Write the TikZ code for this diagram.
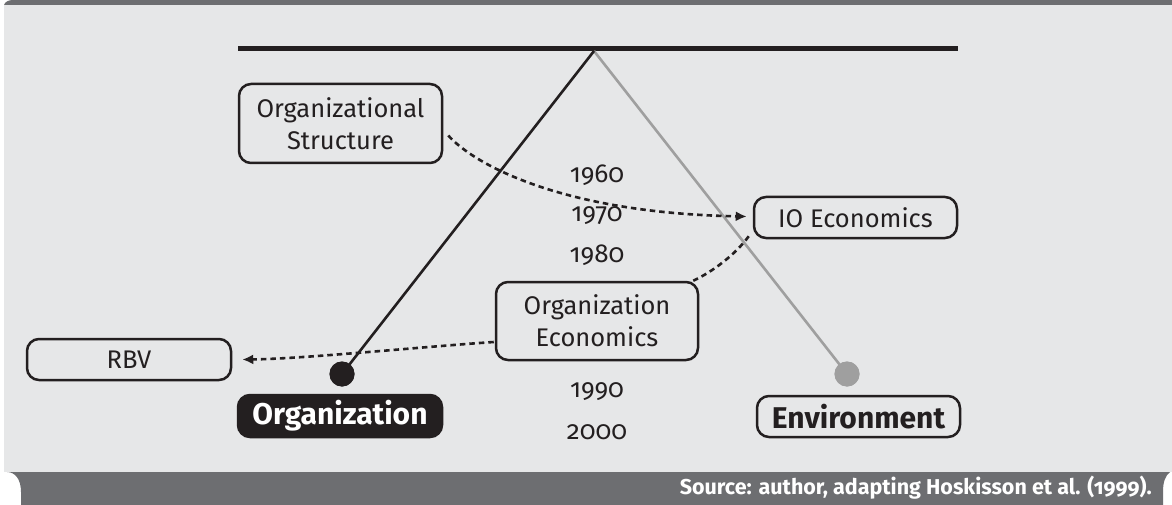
\documentclass[tikz,border=0pt]{standalone}
\usepackage{fontspec}
\setmainfont{Fira Sans}[Numbers=OldStyle]
\usetikzlibrary{arrows.meta,calc}
\definecolor{bgpanel}{HTML}{E6E7E8}
\definecolor{barcol}{HTML}{6D6E71}
\definecolor{ink}{HTML}{231F20}
\definecolor{greyline}{HTML}{9F9F9F}
\begin{document}
\begin{tikzpicture}[x=1pt,y=-1pt,
  box/.style={draw=ink,line width=2.5pt,rounded corners=12pt,fill=bgpanel,
    text=ink,align=center,inner sep=0pt,font=\fontsize{25.5}{32}\selectfont},
  boldbox/.style={box,font=\fontsize{30}{32}\selectfont\bfseries},
  year/.style={text=ink,inner sep=0pt,font=\fontsize{26}{30}\selectfont},
  conn/.style={draw=ink,line width=2.6pt,dash pattern=on 5.5pt off 4pt},
  tipped/.style={-{Latex[length=11pt,width=10pt]}},
  dotted node/.style={circle,inner sep=0pt,minimum size=25pt}
]
\useasboundingbox (0,0) rectangle (1172,505);
% frame
\fill[white] (0,0) rectangle (1172,505);
\fill[bgpanel] (4,5) rectangle (1172,472);
\fill[barcol] (13,0) -- (1172,0) -- (1172,5) -- (4,5) .. controls (5,2) and (8,0) .. (13,0) -- cycle;
\fill[barcol] (7,472) -- (1170,472) .. controls (1165,476) and (1163,482) .. (1163,492)
  -- (1163,505) -- (21,505) -- (21,492) .. controls (21,479) and (15,472) .. (7,472) -- cycle;

% scale
\coordinate (hl) at (238,48.5);
\coordinate (hr) at (958,48.5);
\coordinate (apex) at (594,51);
\draw[ink,line width=5pt] (hl) -- (hr);

\node[dotted node,fill=ink] (odot) at (342,374) {};
\node[dotted node,fill=greyline] (edot) at (847,374) {};
\draw[greyline,line width=2.6pt] (apex) -- (edot.center);
\draw[ink,line width=2.6pt] (apex) -- (odot.center);
\node[dotted node,fill=ink] at (odot) {};
\node[dotted node,fill=greyline] at (edot) {};

% boxes
\node[box,minimum width=203pt,minimum height=79pt] (os) at (340.5,123.5) {Organizational\\Structure};
\node[box,minimum width=203pt,minimum height=41pt] (io) at (855.5,217.5) {IO Economics};
\node[box,minimum width=202pt,minimum height=78pt] (oe) at (597,321) {Organization\\Economics};
\node[box,minimum width=204pt,minimum height=41pt] (rbv) at (129,359.5) {RBV};
\node[boldbox,fill=ink,text=white,minimum width=204pt,minimum height=42pt] (org) at (340,416) {Organization};
\node[boldbox,minimum width=203pt,minimum height=41pt] (env) at (858.5,416.5) {Environment};

% years
\node[year] (y60) at (597,175) {1960};
\node[year] (y70) at (597,216) {1970};
\node[year] (y80) at (597,255) {1980};
\node[year] (y90) at (597,392) {1990};
\node[year] (y00) at (597,432) {2000};

% connectors
\draw[conn,tipped] ($(os.east)+(5,12)$) .. controls ($(os.east)+(30,40)$) and (560,213) .. ($(io.west)+(-6,-1)$);
\draw[conn] ($(io.south west)+(-4,-3)$) .. controls (735,255) and (712,272) .. ($(oe.north east)+(-6,0)$);
\draw[conn,tipped] ($(oe.west)+(-1,21)$) .. controls (420,347) and (300,359) .. ($(rbv.east)+(10,0)$);

% source
\node[anchor=east,inner sep=0pt,text=white,font=\fontsize{21.5}{24}\selectfont\bfseries] (src) at (1152,488) {Source: author, adapting Hoskisson et al. (1999).};
\end{tikzpicture}
\end{document}
